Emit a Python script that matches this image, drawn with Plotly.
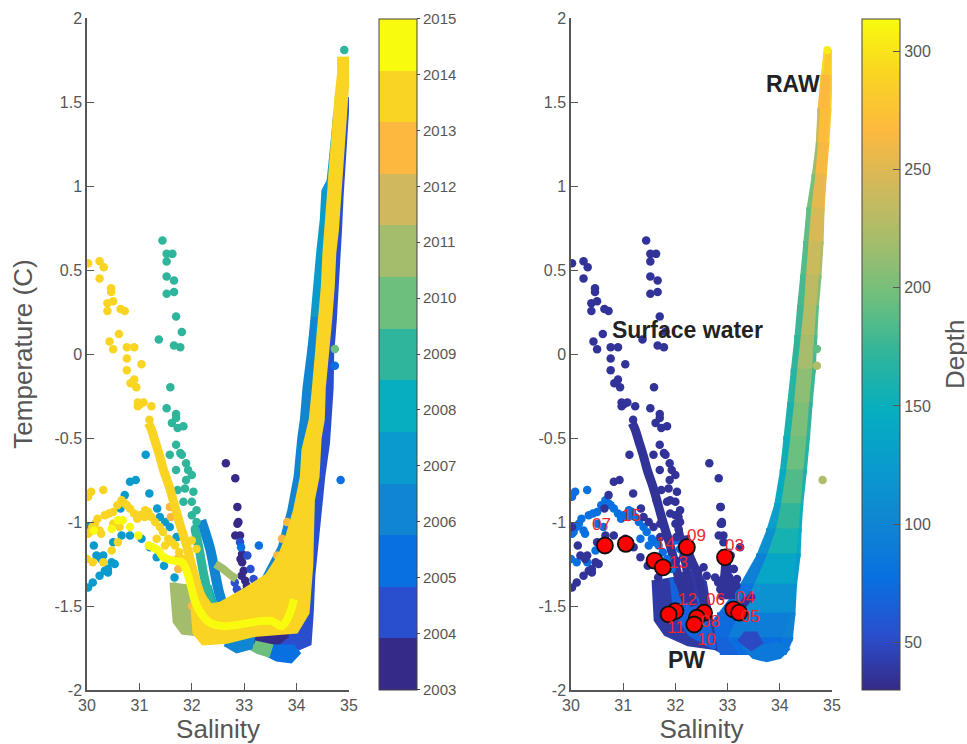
import plotly.graph_objects as go

W, H = 967, 744

# ---------- categories / colours ----------
years = list(range(2003, 2016))
year_colors = ["#352A87", "#2A4FCE", "#0870E1", "#1085D2", "#099BCE", "#06AEBF", "#2FB59B",
               "#6DBF7E", "#A4BD6C", "#D0B95C", "#FDB93F", "#F9D423", "#F9FB0E"]
depth_min, depth_max = 30, 314
depth_ticks = [50, 100, 150, 200, 250, 300]
temp_ticks = [2, 1.5, 1, 0.5, 0, -0.5, -1, -1.5, -2]
temp_labels = ["2", "1.5", "1", "0.5", "0", "-0.5", "-1", "-1.5", "-2"]
sal_ticks = [30, 31, 32, 33, 34, 35]

# ---------- surface dots (salinity, temperature) ----------
gold_dots_s = [30.02, 30.24, 30.32, 30.24, 30.46, 30.46, 30.50, 30.39, 30.39, 30.64, 30.72, 30.61, 30.43, 30.50,
               30.76, 30.90, 30.76, 31.04, 30.76, 30.90, 30.83, 30.94, 30.97, 31.08, 31.01, 30.97, 31.23, 31.19]
gold_dots_t = [0.54, 0.552, 0.516, 0.449, 0.391, 0.369, 0.314, 0.302, 0.256, 0.268, 0.256, 0.119, 0.074, 0.028,
               0.04, 0.04, -0.027, -0.061, -0.097, -0.152, -0.174, -0.198, -0.289, -0.289, -0.299, -0.311, -0.311, -0.392]
teal_dots_s = [31.44, 31.52, 31.63, 31.52, 31.52, 31.66, 31.52, 31.66, 31.70, 31.81, 31.37, 31.66, 31.78, 31.59,
               31.52, 31.70, 31.70, 31.62, 31.73, 31.84, 31.70, 31.58, 31.78, 31.81, 31.89, 31.93, 31.70, 32.0,
               31.89, 31.73, 31.87, 32.03, 31.84, 32.0, 32.09, 32.0, 32.09, 32.06]
teal_dots_t = [0.675, 0.596, 0.596, 0.55, 0.461, 0.437, 0.358, 0.369, 0.223, 0.131, 0.086, 0.05, 0.04, -0.198,
               -0.323, -0.357, -0.381, -0.41, -0.44, -0.43, -0.54, -0.60, -0.59, -0.60, -0.65, -0.69, -0.69, -0.72,
               -0.75, -0.81, -0.80, -0.82, -0.88, -0.88, -0.93, -0.96, -1.0, -1.04]
navy_dots_s = [32.65, 32.83, 32.87, 32.89, 32.87, 32.83, 32.92, 32.96, 32.93, 32.96, 32.99, 33.02, 32.99, 33.05, 32.95]
navy_dots_t = [-0.65, -0.74, -0.91, -1.0, -1.01, -1.08, -1.08, -1.19, -1.22, -1.24, -1.29, -1.35, -1.42, -1.38, -1.32]
royal_dots_s = [32.92, 33.12, 32.86, 32.89, 33.18, 33.06, 32.82, 33.1, 33.35, 33.45, 33.3]
royal_dots_t = [-1.12, -1.28, -1.40, -1.44, -1.34, -1.20, -1.36, -1.40, -1.47, -1.45, -1.49]
blue_dots_s = [32.94, 33.28, 34.84]
blue_dots_t = [-1.15, -1.14, -0.75]
blue2_dots_s = [34.73]
blue2_dots_t = [-0.07]
green_dots_s = [34.73]
green_dots_t = [0.03]
cyan_dots_s = [30.02, 30.11, 30.24, 30.34, 30.47, 30.53, 30.40, 30.18, 30.31, 30.13, 30.50, 30.66, 30.82, 31.04,
               31.20, 31.33, 31.47, 31.67, 30.82, 30.93, 30.72, 31.19, 30.64, 31.34, 31.39, 31.49, 31.58, 31.71,
               31.12, 30.02, 30.27, 30.40]
cyan_dots_t = [-1.39, -1.36, -1.32, -1.29, -1.24, -1.25, -1.28, -1.20, -1.20, -1.14, -1.12, -1.08, -1.08, -1.10,
               -1.15, -1.21, -1.26, -1.33, -0.76, -0.75, -0.84, -0.83, -0.92, -0.92, -0.97, -1.0, -1.03, -1.09,
               -0.60, -1.03, -1.22, -1.30]
gold_arc_s = [30.0, 30.11, 30.31, 30.47, 30.59, 30.02, 30.08, 30.31, 30.02, 30.15, 30.34, 30.5, 30.66, 30.82, 31.01,
              31.23, 31.39, 31.55, 31.68, 31.84, 31.93, 30.27, 30.24, 30.62, 31.11, 31.33, 31.49, 32.0, 32.09, 30.5, 30.05,
              30.72, 30.9, 31.1, 31.3, 30.42, 30.58, 30.2, 30.1, 31.45, 31.62, 31.76, 30.76, 30.96, 31.17]
gold_arc_t = [-1.22, -1.24, -1.24, -1.17, -1.12, -0.85, -0.82, -0.81, -1.07, -1.01, -0.96, -0.94, -0.87, -0.92, -0.96,
              -0.97, -1.03, -1.10, -1.14, -1.22, -1.28, -1.07, -1.05, -1.03, -0.93, -1.10, -1.14, -1.11, -1.16, -1.01, -1.06,
              -0.89, -0.95, -0.97, -1.0, -0.95, -0.90, -0.98, -1.03, -1.06, -1.12, -1.18, -0.90, -0.98, -0.94]
orange_dots_s = [31.58, 31.60, 31.74, 33.82, 33.72, 33.63, 32.0, 31.72]
orange_dots_t = [-0.91, -0.97, -1.28, -1.0, -1.10, -1.2, -1.5, -1.22]
yellow_dots_s = [30.13, 30.47, 30.59, 30.68, 30.82, 30.98, 31.18]
yellow_dots_t = [-1.05, -1.04, -0.99, -0.99, -1.03, -1.08, -1.14]
fan_dots_s = [32.15, 32.31, 32.44, 32.60, 32.76, 32.02, 32.22, 32.47, 32.06, 32.31, 32.54, 32.02, 32.0, 31.90, 31.64, 31.90,
              32.06, 31.71, 32.86, 33.11, 33.17, 32.92, 33.05, 32.86, 32.89, 33.24]
fan_dots_t = [-1.21, -1.26, -1.29, -1.32, -1.33, -1.23, -1.33, -1.37, -1.35, -1.23, -1.27, -1.09, -1.01, -0.95, -0.87, -0.87,
              -0.97, -1.01, -1.35, -1.28, -1.38, -1.40, -1.41, -0.91, -1.01, -1.15]

# ---------- drawn curves ----------
yellow_line_s = [31.18, 31.36, 31.46, 31.65, 31.81, 31.9, 31.99, 32.06, 32.19, 32.35, 32.6, 32.92, 33.31, 33.53, 33.72, 33.85, 33.95]
yellow_line_t = [-1.14, -1.17, -1.21, -1.23, -1.24, -1.29, -1.39, -1.47, -1.55, -1.60, -1.62, -1.61, -1.59, -1.59, -1.62, -1.56, -1.46]
gold_diag_s = [31.17, 31.23, 31.30, 31.39, 31.46, 31.58, 31.68, 31.78, 31.90, 32.0, 32.09, 32.22]
gold_diag_t = [-0.41, -0.45, -0.52, -0.61, -0.69, -0.80, -0.91, -1.02, -1.14, -1.26, -1.36, -1.48]
teal_line_s = [32.06, 32.14, 32.22, 32.30, 32.36]
teal_line_t = [-1.04, -1.16, -1.30, -1.42, -1.50]
cyan_line_s = [32.30, 32.38, 32.46]
cyan_line_t = [-1.38, -1.46, -1.53]
blue_line_s = [32.18, 32.35, 32.44, 32.52, 32.60]
blue_line_t = [-0.99, -1.16, -1.30, -1.42, -1.50]
olive_arm_s = [32.45, 32.60, 32.76, 32.85]
olive_arm_t = [-1.25, -1.28, -1.32, -1.34]
navy_streak_s = [32.2, 32.28, 32.42, 32.50, 32.55]
navy_streak_t = [-1.08, -1.20, -1.30, -1.40, -1.50]
navy_column_s = [32.96, 32.97, 32.95, 33.0, 33.02, 33.05]
navy_column_t = [-1.16, -1.26, -1.36, -1.43, -1.33, -1.46]

# ---------- year bands, outlines (salinity, temperature) ----------
royal_s = [34.96, 34.91, 34.87, 34.84, 34.81, 34.76, 34.71, 34.66, 34.65, 34.61, 34.58, 34.49, 34.43, 34.36, 34.30, 34.27, 34.23,
           34.01, 33.44, 33.2, 33.0, 33.9, 34.4, 34.7, 34.85]
royal_t = [1.53, 1.33, 1.14, 0.94, 0.74, 0.40, 0.20, 0.0, -0.2, -0.39, -0.53, -0.73, -0.93, -1.12, -1.32, -1.54, -1.72,
           -1.75, -1.76, -1.72, -1.5, -1.3, -0.6, 0.6, 1.5]
cyan_band_s = [34.79, 34.74, 34.69, 34.62, 34.52, 34.49, 34.42, 34.37, 34.31, 34.25, 34.45, 34.7, 34.85]
cyan_band_t = [1.55, 1.40, 1.22, 1.03, 0.97, 0.80, 0.60, 0.40, 0.20, 0.0, 0.0, 0.8, 1.55]
blue_band_s = [34.34, 34.25, 34.17, 34.12, 34.07, 34.0, 33.88, 33.7, 33.4, 33.3, 34.2, 34.4]
blue_band_t = [0.22, 0.0, -0.2, -0.39, -0.5, -0.73, -0.93, -1.15, -1.33, -1.5, -1.5, -0.2]
green_band_s = [34.72, 34.66, 34.62, 34.70, 34.80]
green_band_t = [1.42, 1.18, 1.02, 1.0, 1.4]
bright_blob_s = [33.44, 33.63, 33.88, 34.0, 33.92, 33.52]
bright_blob_t = [-1.78, -1.81, -1.82, -1.78, -1.75, -1.75]
blue_blob_s = [32.64, 32.86, 33.10, 33.15, 32.8]
blue_blob_t = [-1.72, -1.76, -1.74, -1.68, -1.68]
green_blob_s = [33.08, 33.25, 33.45, 33.5, 33.2]
green_blob_t = [-1.74, -1.77, -1.79, -1.74, -1.72]
navy_blob_s = [33.12, 33.24, 33.5, 33.82, 33.5]
navy_blob_t = [-1.69, -1.75, -1.75, -1.67, -1.64]
olive_blob_s = [31.64, 31.70, 31.84, 32.09, 32.09, 31.9]
olive_blob_t = [-1.36, -1.59, -1.65, -1.66, -1.46, -1.37]
gold_blob_s = [34.82, 34.82, 34.77, 34.72, 34.67, 34.61, 34.58, 34.54, 34.51, 34.46, 34.41, 34.34, 34.28, 34.14, 34.11, 33.98,
               33.82, 33.69, 33.44, 33.05, 32.54, 32.35, 32.22, 32.09, 32.03, 32.06, 32.22, 32.67, 33.18, 33.99, 34.2, 34.27,
               34.30, 34.39, 34.43, 34.49, 34.51, 34.58, 34.63, 34.68, 34.71, 34.76, 34.80, 34.84, 34.89, 34.93, 34.97, 34.96]
gold_blob_t = [1.77, 1.67, 1.53, 1.33, 1.14, 0.94, 0.74, 0.6, 0.4, 0.2, 0.0, -0.2, -0.39, -0.57, -0.73, -0.93,
               -1.1, -1.2, -1.32, -1.40, -1.49, -1.5, -1.44, -1.36, -1.54, -1.66, -1.72, -1.71, -1.67, -1.65, -1.54, -1.26,
               -0.87, -0.73, -0.5, -0.39, -0.2, 0.0, 0.2, 0.4, 0.6, 0.74, 0.94, 1.14, 1.33, 1.53, 1.67, 1.77]
top_dot_s = [34.91]
top_dot_t = [1.81]

# ---------- depth grid for the right panel: T row, four salinity edges, three depths ----------
grid_t = [1.80, 1.65, 1.45, 1.25, 1.06, 0.86, 0.66, 0.46, 0.28, 0.10, -0.10, -0.30, -0.50, -0.70, -0.90, -1.05, -1.20, -1.38, -1.55, -1.70, -1.78]
grid_s0 = [34.85, 34.78, 34.72, 34.69, 34.61, 34.51, 34.45, 34.39, 34.33, 34.28, 34.21, 34.14, 34.07, 34.0, 33.89, 33.74, 33.55, 33.22, 32.8, 32.4, 32.85]
grid_s1 = [34.87, 34.83, 34.77, 34.73, 34.68, 34.60, 34.55, 34.50, 34.46, 34.40, 34.33, 34.27, 34.20, 34.12, 34.02, 33.92, 33.75, 33.50, 33.2, 33.0, 33.2]
grid_s2 = [34.95, 34.93, 34.91, 34.87, 34.82, 34.78, 34.75, 34.71, 34.66, 34.62, 34.58, 34.52, 34.47, 34.41, 34.36, 34.32, 34.28, 34.22, 34.15, 34.0, 33.9]
grid_s3 = [34.97, 34.97, 34.95, 34.91, 34.86, 34.82, 34.80, 34.76, 34.71, 34.68, 34.65, 34.59, 34.54, 34.48, 34.41, 34.38, 34.36, 34.29, 34.26, 34.21, 34.10]
grid_dl = [305, 285, 255, 225, 205, 195, 188, 185, 178, 175, 170, 165, 155, 150, 140, 120, 105, 85, 78, 70, 65]
grid_dc = [300, 262, 270, 268, 258, 250, 245, 235, 230, 225, 215, 205, 200, 190, 180, 165, 150, 125, 105, 80, 70]
grid_dr = [305, 290, 285, 275, 262, 255, 235, 215, 195, 185, 180, 175, 170, 165, 155, 150, 135, 120, 105, 90, 78]
bump_s = [33.3, 33.5, 33.75, 34.0, 34.13, 33.9]
bump_t = [-1.74, -1.80, -1.82, -1.80, -1.76, -1.72]
bump_depth = 88
fan_s = [31.61, 31.65, 31.83, 32.25, 32.73, 32.6, 32.54, 32.34, 32.02]
fan_t = [-1.345, -1.58, -1.66, -1.72, -1.74, -1.50, -1.365, -1.305, -1.325]
fan_depth = 40
fan_inner_s = [31.92, 32.0, 32.28, 32.75, 32.56, 32.42, 32.2]
fan_inner_t = [-1.33, -1.54, -1.67, -1.75, -1.52, -1.46, -1.42]
fan_inner_depth = 68
dark_patch_s = [33.2, 33.45, 33.65, 33.55, 33.3]
dark_patch_t = [-1.70, -1.76, -1.72, -1.66, -1.66]
dark_patch_depth = 50
outlier_s = [34.82, 34.71, 34.71]
outlier_t = [-0.75, -0.07, 0.03]
outlier_depth = [225, 225, 190]
surface_depth = 36
arc_depth = 78
top_depth = 305

# ---------- stations ----------
station_labels = ["07", "15", "14", "13", "09", "03", "12", "11", "06", "08", "10", "04", "05"]
station_s = [30.65, 31.05, 31.60, 31.76, 32.22, 32.95, 32.0, 31.87, 32.55, 32.41, 32.36, 33.11, 33.22]
station_t = [-1.14, -1.13, -1.23, -1.27, -1.15, -1.21, -1.53, -1.55, -1.54, -1.57, -1.61, -1.52, -1.54]
station_dx = [-3, 6, 11, 16, 10, 10, 12, 7, 11, 14, 12, 12, 11]
station_dy = [-21, -28, -17, -5, -12, -12, -12, 13, -13, 4, 15, -12, 4]

region_text = ["Surface water", "RAW", "PW"]
region_s = [32.24, 34.26, 32.22]
region_t = [0.14, 1.61, -1.82]

GREY = "#565656"
FONT = "Liberation Sans"


def depth_color(value):
    f = (value - depth_min) / (depth_max - depth_min)
    f = max(0.0, min(1.0, f)) * 12
    i = min(int(f), 11)
    a, b = year_colors[i], year_colors[i + 1]
    mix = [round(int(a[k:k + 2], 16) * (1 - (f - i)) + int(b[k:k + 2], 16) * (f - i)) for k in (1, 3, 5)]
    return "rgb(%d,%d,%d)" % tuple(mix)


def year_color(y):
    return year_colors[y - 2003]


fig = go.Figure()


def poly(s, t, color, panel, edge=2.5):
    fig.add_trace(go.Scatter(x=s, y=t, mode="lines", fill="toself", fillcolor=color, hoverinfo="skip",
                             line=dict(color=color, width=edge), showlegend=False,
                             xaxis="x" if panel == 1 else "x2", yaxis="y" if panel == 1 else "y2"))


def curve(s, t, color, width, panel):
    fig.add_trace(go.Scatter(x=s, y=t, mode="lines", line=dict(color=color, width=width, shape="spline"), hoverinfo="skip",
                             showlegend=False, xaxis="x" if panel == 1 else "x2", yaxis="y" if panel == 1 else "y2"))


def dots_year(s, t, year):
    fig.add_trace(go.Scatter(x=s, y=t, mode="markers", showlegend=False,
                             marker=dict(size=8.5, color=[year] * len(s), coloraxis="coloraxis")))


def dots_depth(s, t, depth, size=8.5):
    d = depth if isinstance(depth, list) else [depth] * len(s)
    fig.add_trace(go.Scatter(x=s, y=t, mode="markers", showlegend=False, xaxis="x2", yaxis="y2",
                             marker=dict(size=size, color=d, coloraxis="coloraxis2")))


# ------ left panel ------
poly(royal_s, royal_t, year_color(2004), 1, 6)
poly(navy_blob_s, navy_blob_t, year_color(2003), 1, 6)
poly(bright_blob_s, bright_blob_t, year_color(2005), 1, 7)
poly(green_blob_s, green_blob_t, year_color(2010), 1, 5)
poly(blue_blob_s, blue_blob_t, year_color(2006), 1, 7)
poly(cyan_band_s, cyan_band_t, year_color(2007), 1, 5)
poly(blue_band_s, blue_band_t, year_color(2006), 1, 6)
poly(green_band_s, green_band_t, year_color(2010), 1, 3)
dots_year(navy_dots_s, navy_dots_t, 2003)
dots_year(royal_dots_s, royal_dots_t, 2004)
dots_year(blue_dots_s, blue_dots_t, 2005)
dots_year(blue2_dots_s, blue2_dots_t, 2005)
dots_year(green_dots_s, green_dots_t, 2010)
dots_year(top_dot_s, top_dot_t, 2009)
curve(blue_line_s, blue_line_t, year_color(2006), 10, 1)
dots_year(cyan_dots_s, cyan_dots_t, 2007)
curve(cyan_line_s, cyan_line_t, year_color(2008), 8, 1)
curve(teal_line_s, teal_line_t, year_color(2009), 9, 1)
dots_year(teal_dots_s, teal_dots_t, 2009)
poly(olive_blob_s, olive_blob_t, year_color(2011), 1, 7)
curve(olive_arm_s, olive_arm_t, year_color(2011), 8, 1)
dots_year(orange_dots_s, orange_dots_t, 2013)
poly(gold_blob_s, gold_blob_t, year_color(2014), 1, 5)
curve(gold_diag_s, gold_diag_t, year_color(2014), 9, 1)
dots_year(gold_dots_s, gold_dots_t, 2014)
dots_year(gold_arc_s, gold_arc_t, 2014)
curve(yellow_line_s, yellow_line_t, year_color(2015), 8, 1)
dots_year(yellow_dots_s, yellow_dots_t, 2015)

# ------ right panel ------
for i in range(len(grid_t) - 1):
    edges = [(grid_s0, grid_s1, grid_dl), (grid_s2, grid_s3, grid_dr), (grid_s1, grid_s2, grid_dc)]
    for a, b, d in edges:
        poly([a[i], b[i], b[i + 1], a[i + 1]], [grid_t[i], grid_t[i], grid_t[i + 1], grid_t[i + 1]],
             depth_color((d[i] + d[i + 1]) / 2), 2, 4)
poly(bump_s, bump_t, depth_color(bump_depth), 2, 5)
poly(dark_patch_s, dark_patch_t, depth_color(dark_patch_depth), 2, 3)
poly(fan_s, fan_t, depth_color(fan_depth), 2, 7)
poly(fan_inner_s, fan_inner_t, depth_color(fan_inner_depth), 2, 4)
curve(gold_diag_s, gold_diag_t, depth_color(surface_depth), 9, 2)
curve(teal_line_s, teal_line_t, depth_color(surface_depth), 8, 2)
curve(navy_streak_s, navy_streak_t, depth_color(surface_depth), 8, 2)
curve(navy_column_s, navy_column_t, depth_color(surface_depth), 10, 2)
dots_depth(gold_arc_s, gold_arc_t, arc_depth)
dots_depth(gold_dots_s, gold_dots_t, surface_depth)
dots_depth(teal_dots_s, teal_dots_t, surface_depth)
dots_depth(navy_dots_s, navy_dots_t, surface_depth)
dots_depth(royal_dots_s, royal_dots_t, surface_depth)
dots_depth(cyan_dots_s, cyan_dots_t, surface_depth)
dots_depth(fan_dots_s, fan_dots_t, surface_depth)
dots_depth(outlier_s, outlier_t, outlier_depth)
dots_depth(top_dot_s, top_dot_t, top_depth, 8)

fig.add_trace(go.Scatter(x=station_s, y=station_t, mode="markers", showlegend=False, xaxis="x2", yaxis="y2",
                         marker=dict(size=16, color="#FF0000", line=dict(color="#101010", width=1.8))))

annotations = []
for lab, s, t, dx, dy in zip(station_labels, station_s, station_t, station_dx, station_dy):
    annotations.append(dict(x=s, y=t, xref="x2", yref="y2", text=lab, showarrow=False, xshift=dx, yshift=-dy,
                            font=dict(family=FONT, size=17, color="#F0252B")))
for txt, s, t in zip(region_text, region_s, region_t):
    annotations.append(dict(x=s, y=t, xref="x2", yref="y2", text="<b>%s</b>" % txt, showarrow=False,
                            font=dict(family=FONT, size=23, color="#222222")))
annotations.append(dict(x=955 / W, y=1 - 355 / H, xref="paper", yref="paper", xanchor="center", yanchor="middle",
                        text="Depth", showarrow=False, textangle=-90, font=dict(family=FONT, size=26, color=GREY)))

step_scale = []
for i, c in enumerate(year_colors):
    step_scale += [[i / 13, c], [(i + 1) / 13, c]]
smooth_scale = [[i / 12, c] for i, c in enumerate(year_colors)]

axis_common = dict(showgrid=False, zeroline=False, showline=True, linecolor=GREY, linewidth=1.5, ticks="inside",
                   ticklen=7, tickwidth=1, tickcolor=GREY, tickfont=dict(family=FONT, size=16, color=GREY))
x_common = dict(axis_common, range=[30, 35], tickvals=sal_ticks, ticktext=[str(v) for v in sal_ticks],
                title=dict(text="Salinity", standoff=5, font=dict(family=FONT, size=26, color=GREY)))
y_common = dict(axis_common, range=[-2, 2], tickvals=temp_ticks, ticktext=temp_labels)

top, bottom = 1 - 18 / H, 1 - 690 / H
fig.update_layout(
    width=W, height=H, margin=dict(l=0, r=0, t=0, b=0, autoexpand=False), paper_bgcolor="white", plot_bgcolor="white",
    font=dict(family=FONT, color=GREY),
    xaxis=dict(x_common, domain=[87 / W, 349 / W], anchor="y"),
    yaxis=dict(y_common, domain=[bottom, top], anchor="x",
               title=dict(text="Temperature (C)", standoff=14, font=dict(family=FONT, size=26, color=GREY))),
    xaxis2=dict(x_common, domain=[571 / W, 832 / W], anchor="y2"),
    yaxis2=dict(y_common, domain=[bottom, top], anchor="x2"),
    coloraxis=dict(cmin=2003, cmax=2015, colorscale=step_scale, colorbar=dict(
        x=379 / W, xanchor="left", y=(bottom + top) / 2, yanchor="middle", len=671 / H, lenmode="fraction",
        thickness=38, thicknessmode="pixels", outlinecolor="#444444", outlinewidth=1, xpad=0, ypad=0,
        tickvals=years, ticktext=[str(y) for y in years], ticks="outside", ticklen=3, tickwidth=0,
        tickfont=dict(family=FONT, size=15, color=GREY))),
    coloraxis2=dict(cmin=depth_min, cmax=depth_max, colorscale=smooth_scale, colorbar=dict(
        x=862 / W, xanchor="left", y=(bottom + top) / 2, yanchor="middle", len=671 / H, lenmode="fraction",
        thickness=38, thicknessmode="pixels", outlinecolor="#444444", outlinewidth=1, xpad=0, ypad=0,
        tickvals=depth_ticks, ticks="inside", ticklen=7, tickcolor=GREY,
        tickfont=dict(family=FONT, size=16, color=GREY))),
    annotations=annotations,
)

fig.write_html("out.html", config=dict(displayModeBar=False), post_script="document.body.style.margin='0';")
